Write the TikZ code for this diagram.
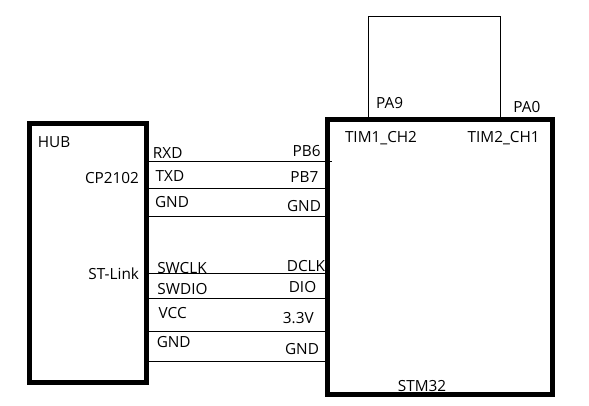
\documentclass[tikz,border=0pt]{standalone}
\usepackage{fontspec}
\setmainfont{Open Sans}
\tikzstyle{chip} = [rectangle, draw, line width=3.75pt, inner sep=0pt]
\tikzstyle{pin} = [inner sep=0pt, text height=8.25pt, text depth=0pt, font=\fontsize{11.5pt}{13pt}\selectfont]
\tikzstyle{wire} = [line width=0.75pt]

\begin{document}
\begin{tikzpicture}[x=0.75pt,y=-0.75pt]
	\useasboundingbox (0,0) rectangle (589,406);

	\node [pin] at (54,141.7) (hubname) {HUB};
	\node [pin] at (112,177.7) (cp) {CP2102};
	\node [pin] at (113.7,274) (stlink) {ST-Link};
	\node [pin] at (167.7,152.7) (rxd) {RXD};
	\node [pin] at (170,175.7) (txd) {TXD};
	\node [pin] at (172,201.7) (gnda) {GND};
	\node [pin] at (182,267.7) (swclk) {SWCLK};
	\node [pin] at (182.5,289.3) (swdio) {SWDIO};
	\node [pin] at (172.7,313.3) (vcc) {VCC};
	\node [pin] at (173.7,341.7) (gndb) {GND};
	\node [pin] at (306.7,151) (pb6) {PB6};
	\node [pin] at (304.3,176.7) (pb7) {PB7};
	\node [pin] at (304,206) (gndc) {GND};
	\node [pin] at (306,265.7) (dclk) {DCLK};
	\node [pin] at (302.5,286.7) (dio) {DIO};
	\node [pin] at (298.3,317.7) (vdd) {3.3V};
	\node [pin] at (302,349.3) (gndd) {GND};
	\node [pin] at (422,385.7) (stmname) {STM32};
	\node [pin] at (389.7,102.7) (pa9) {PA9};
	\node [pin] at (526.8,106.7) (pa0) {PA0};
	\node [pin] at (381,136.7) (timb) {TIM1\_CH2};
	\node [pin] at (503.7,137) (tima) {TIM2\_CH1};

	\node [chip, minimum width=87.75pt, minimum height=194.25pt] at (88,253) (hub) {};
	\node [chip, minimum width=168.75pt, minimum height=206.25pt] at (440,257) (stm) {};

	\coordinate (rowa) at (0,161.5);
	\coordinate (rowb) at (0,188.5);
	\coordinate (rowc) at (0,216.5);
	\coordinate (rowd) at (0,273.5);
	\coordinate (rowe) at (0,298.5);
	\coordinate (rowf) at (0,331.5);
	\coordinate (rowg) at (0,361.5);
	\coordinate (loopl) at (368.5,16.5);
	\coordinate (loopr) at (500.5,16.5);

	\draw [wire] (hub.east |- rowa) -- ([xshift=5pt]stm.west |- rowa);
	\draw [wire] (hub.east |- rowb) -- (stm.west |- rowb);
	\draw [wire] (hub.east |- rowc) -- (stm.west |- rowc);
	\draw [wire] (hub.east |- rowd) -- (stm.west |- rowd);
	\draw [wire] (hub.east |- rowe) -- (stm.west |- rowe);
	\draw [wire] (hub.east |- rowf) -- (stm.west |- rowf);
	\draw [wire] (hub.east |- rowg) -- (stm.west |- rowg);
	\draw [wire] (loopl |- stm.north) -- (loopl) -- (loopr) -- (loopr |- stm.north);
\end{tikzpicture}
\end{document}
